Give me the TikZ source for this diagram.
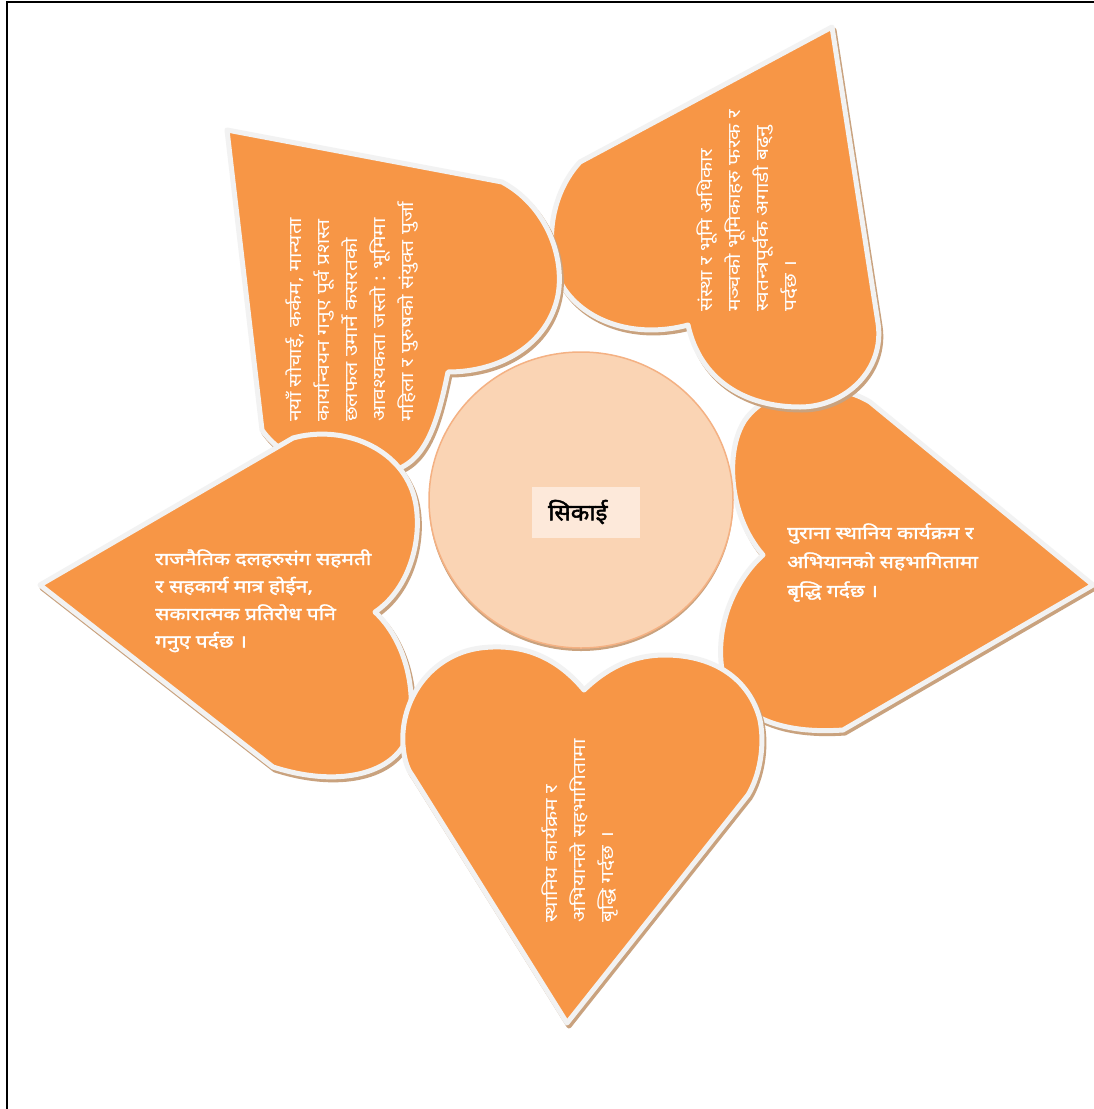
\documentclass[tikz,border=0pt]{standalone}
\usepackage{fontspec}
\newfontfamily\dev[Script=Devanagari, FakeStretch=1.2]{Noto Sans}
\newfontfamily\devb[Script=Devanagari, FakeStretch=1.2, FakeBold=1.6]{Noto Sans}
\newfontfamily\devc[Script=Devanagari, FakeStretch=1.05, FakeBold=2]{Noto Sans}
\definecolor{heartorange}{HTML}{F79646}
\definecolor{borderwhite}{HTML}{F2F2F2}
\definecolor{shadowtan}{HTML}{C9A27E}
\definecolor{circlefill}{HTML}{FAD4B4}
\definecolor{circleedge}{HTML}{F4B183}
\definecolor{boxfill}{HTML}{FDE9DA}
\def\heartR{(1093,585) -- (870,402) .. controls (830,378) and (770,385) .. (745,420) .. controls (725,450) and (728,515) .. (763,555) .. controls (735,580) and (715,625) .. (722,670) .. controls (730,710) and (770,735) .. (843,730) -- cycle}
\def\heartTR{(832,27) -- (878,323) .. controls (885,370) and (845,407) .. (800,407) .. controls (745,407) and (700,380) .. (688,325) .. controls (640,338) and (590,325) .. (565,290) .. controls (545,260) and (545,200) .. (580,162) -- cycle}
\def\heartTL{(227,130) -- (502,182) .. controls (545,205) and (565,255) .. (558,295) .. controls (548,345) and (500,372) .. (448,372) .. controls (440,410) and (430,455) .. (400,468) .. controls (360,485) and (290,470) .. (262,430) -- cycle}
\def\heartL{(40,585) -- (293,438) .. controls (340,425) and (395,445) .. (412,490) .. controls (425,525) and (415,585) .. (375,612) .. controls (405,640) and (418,690) .. (408,735) .. controls (398,770) and (345,790) .. (273,767) -- cycle}
\def\heartB{(584,690) .. controls (555,655) and (520,643) .. (480,648) .. controls (430,655) and (400,700) .. (403,745) .. controls (404,760) and (408,770) .. (412,775) -- (567,1023) -- (748,795) .. controls (760,775) and (765,745) .. (760,720) .. controls (750,680) and (715,655) .. (665,655) .. controls (630,655) and (605,670) .. (584,690) -- cycle}
\begin{document}
\begin{tikzpicture}[x=1pt,y=-1pt,
  heartshadow/.style={draw=shadowtan, fill=shadowtan, line width=5pt, line join=round, shift={(2,3)}},
  heartbody/.style={fill=heartorange, draw=borderwhite, line width=5pt, line join=round},
  rottext/.style={rotate=90, anchor=base west, inner sep=0pt, align=left, text=white, font=\dev\fontsize{17.5}{28}\selectfont},
  flattext/.style={anchor=base west, inner sep=0pt, align=left, text=white, font=\devb\fontsize{17.5}{29}\selectfont}]
\useasboundingbox (0,0) rectangle (1094,1109);
\fill[white] (0,0) rectangle (1094,1109);
\draw[black, line width=1.2pt] (1094,2) -- (7,2) -- (7,1109);
% hearts, back to front
\path[heartshadow] \heartR;
\path[heartbody] \heartR;
\path[heartshadow] \heartTR;
\path[heartbody] \heartTR;
\path[heartshadow] \heartTL;
\path[heartbody] \heartTL;
\path[heartshadow] \heartL;
\path[heartbody] \heartL;
\path[heartshadow] \heartB;
\path[heartbody] \heartB;
% centre
\fill[shadowtan] (581,503) ellipse [x radius=152, y radius=148];
\filldraw[fill=circlefill, draw=circleedge, line width=1.5pt] (581,500) ellipse [x radius=152, y radius=148];
\node[fill=boxfill, minimum width=108pt, minimum height=51pt, inner xsep=16pt, text width=76pt, align=left, anchor=west, font=\devc\fontsize{23}{26}\selectfont] (centre) at (532,512) {सिकाई};
% texts (anchor = baseline of the last line)
\node[rottext] (tltext) at (413,422) {नयाँ सोचाई, कर्कम, मान्यता\\कार्यान्वयन गनुए पूर्व प्रशस्त\\छलफल उमार्ने कसरतको\\आवश्यकता जस्तो : भूमिमा\\महिला र पुरुषको संयुक्त पुर्जा};
\node[rottext] (trtext) at (796,312) {संस्था र भूमि अधिकार\\मञ्चको भूमिकाहरु फरक र\\स्वतन्त्रपूर्वक अगाडी बढ्नु\\पर्दछ ।};
\node[rottext] (btext) at (613,923) {स्थानिय कार्यक्रम र\\अभियानले सहभागितामा\\बृद्धि गर्दछ ।};
\node[flattext] (rtext) at (787,597) {पुराना स्थानिय कार्यक्रम र\\अभियानको सहभागितामा\\बृद्धि गर्दछ ।};
\node[flattext, font=\devb\fontsize{17.5}{27.5}\selectfont] (ltext) at (155,647.5) {राजनैतिक दलहरुसंग सहमती\\र सहकार्य मात्र होईन,\\सकारात्मक प्रतिरोध पनि\\गनुए पर्दछ ।};
\end{tikzpicture}
\end{document}
